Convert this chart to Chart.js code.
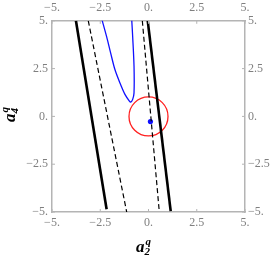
<!DOCTYPE html>
<html>
<head>
<meta charset="utf-8">
<script src="https://cdn.jsdelivr.net/npm/chart.js@4"></script>
<style>
  html, body { margin: 0; padding: 0; background: #fff; }
  #chart { display: block; }
</style>
</head>
<body>
<canvas id="chart" width="274" height="256"></canvas>
<script>
// ===================== DATA =====================
const tickValues = [-5, -2.5, 0, 2.5, 5];
const tickLabels = ['\u22125.', '\u22122.5', '0.', '2.5', '5.'];

// straight boundary lines, [x, y] end points in data units
const solidLeft = [[-3.76, 5], [-2.17, -4.86]];
const solidRight = [[-0.04, 5], [1.15, -4.95]];
const dashLeft = [[-3.12, 5], [-1.13, -5]];
const dashRight = [[-0.32, 5], [0.56, -5]];

// blue contour
const blueX = [-2.42, -2.17, -1.96, -1.74, -1.48, -1.22, -0.99, -0.92, -0.82, -0.75, -0.75, -0.82, -0.87];
const blueY = [5.09, 4.17, 3.31, 2.45, 1.75, 1.15, 0.80, 0.75, 0.89, 1.23, 2.62, 4.17, 5.07];

const circleCenter = [0, 0];
const dotPoint = [0.1, -0.27];

// ===================== HELPERS =====================
const toPts = arr => arr.map(p => ({ x: p[0], y: p[1] }));
const frameColor = '#b4b4b4';
const labelColor = '#7f7f7f';
const serif = '"Liberation Serif", "DejaVu Serif", serif';

function drawMathLabel(ctx, cx, cy, sub, rot) {
  ctx.save();
  ctx.translate(cx, cy);
  ctx.rotate(rot);
  ctx.fillStyle = '#000';
  ctx.textBaseline = 'alphabetic';
  ctx.font = 'bold italic 17px ' + serif;
  const wA = ctx.measureText('a').width;
  ctx.font = 'bold italic 11px ' + serif;
  const wS = Math.max(ctx.measureText('q').width, ctx.measureText(sub).width);
  const x0 = -(wA + wS + 1) / 2;
  ctx.font = 'bold italic 17px ' + serif;
  ctx.fillText('a', x0, 5);
  ctx.font = 'bold italic 11px ' + serif;
  ctx.fillText('q', x0 + wA + 1, -2);
  ctx.fillText(sub, x0 + wA, 8);
  ctx.restore();
}

// frame ticks pointing inward + axis titles
const framePlugin = {
  id: 'framePlugin',
  afterDraw(chart) {
    const ctx = chart.ctx;
    const a = chart.chartArea;
    const xs = chart.scales.x, ys = chart.scales.y;
    const len = 3;
    ctx.save();
    ctx.strokeStyle = frameColor;
    ctx.lineWidth = 1;
    ctx.beginPath();
    tickValues.forEach(v => {
      const px = xs.getPixelForValue(v);
      ctx.moveTo(px, a.bottom); ctx.lineTo(px, a.bottom - len);
      ctx.moveTo(px, a.top); ctx.lineTo(px, a.top + len);
      const py = ys.getPixelForValue(v);
      ctx.moveTo(a.left, py); ctx.lineTo(a.left + len, py);
      ctx.moveTo(a.right, py); ctx.lineTo(a.right - len, py);
    });
    ctx.stroke();
    ctx.restore();

    drawMathLabel(ctx, (a.left + a.right) / 2 - 5, 247, '2', 0);
    drawMathLabel(ctx, 10, (a.top + a.bottom) / 2 - 2, '4', -Math.PI / 2);
  }
};

function axis(position, width, height, padding) {
  return {
    type: 'linear',
    position: position,
    min: -5,
    max: 5,
    afterBuildTicks: s => { s.ticks = tickValues.map(v => ({ value: v })); },
    afterFit: s => {
      if (width !== null) s.width = width;
      if (height !== null) s.height = height;
    },
    grid: { drawOnChartArea: false, drawTicks: false },
    border: { display: true, color: frameColor, width: 1.5 },
    ticks: {
      padding: padding,
      color: labelColor,
      font: { family: serif, size: 12 },
      maxRotation: 0,
      autoSkip: false,
      callback: v => tickLabels[tickValues.indexOf(v)]
    }
  };
}

// ===================== CHART =====================
const ctx = document.getElementById('chart').getContext('2d');
const chart = new Chart(ctx, {
  type: 'scatter',
  data: {
    datasets: [
      { data: toPts(solidLeft), showLine: true, borderColor: '#000', borderWidth: 2.6, pointRadius: 0 },
      { data: toPts(solidRight), showLine: true, borderColor: '#000', borderWidth: 2.6, pointRadius: 0 },
      { data: toPts(dashLeft), showLine: true, borderColor: '#000', borderWidth: 1.2, borderDash: [5, 3], pointRadius: 0 },
      { data: toPts(dashRight), showLine: true, borderColor: '#000', borderWidth: 1.2, borderDash: [5, 3], pointRadius: 0 },
      {
        data: blueX.map((x, i) => ({ x: x, y: blueY[i] })),
        showLine: true, borderColor: '#1010ff', borderWidth: 1.3, pointRadius: 0, tension: 0.3
      },
      {
        data: [{ x: circleCenter[0], y: circleCenter[1] }],
        pointRadius: 19.5, borderColor: '#ff2020', borderWidth: 1.3,
        backgroundColor: 'rgba(0,0,0,0)'
      },
      {
        data: [{ x: dotPoint[0], y: dotPoint[1] }],
        pointRadius: 2.6, borderWidth: 0, backgroundColor: '#1010ff'
      }
    ]
  },
  options: {
    responsive: false,
    animation: false,
    events: [],
    layout: { padding: 0 },
    plugins: { legend: { display: false }, tooltip: { enabled: false } },
    scales: {
      x: axis('bottom', null, 44, 4),
      x2: axis('top', null, 19, 6),
      y: axis('left', 52, null, 4),
      y2: axis('right', 29, null, 3)
    }
  },
  plugins: [framePlugin]
});
</script>
</body>
</html>
